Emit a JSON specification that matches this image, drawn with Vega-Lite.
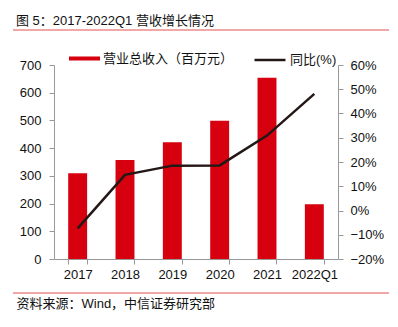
{
  "$schema": "https://vega.github.io/schema/vega-lite/v6.json",
  "width": 284,
  "height": 194,
  "autosize": {"type": "none"},
  "padding": {"left": 54, "top": 65, "right": 60, "bottom": 68},
  "title": {
    "text": "图 5：2017-2022Q1 营收增长情况",
    "anchor": "start",
    "frame": "group",
    "dx": -38,
    "offset": 2,
    "fontSize": 13,
    "fontWeight": "normal",
    "color": "#111",
    "font": "Liberation Sans, Noto Sans CJK SC"
  },
  "config": {
    "view": {"stroke": null},
    "font": "Liberation Sans, Noto Sans CJK SC",
    "axis": {
      "labelFont": "Liberation Sans, Noto Sans CJK SC",
      "labelFontSize": 13,
      "labelColor": "#111",
      "domainColor": "#999",
      "tickColor": "#999",
      "tickSize": 5,
      "grid": false
    },
    "legend": {
      "labelFont": "Liberation Sans, Noto Sans CJK SC",
      "labelFontSize": 13,
      "labelColor": "#111"
    }
  },
  "data": {
    "values": [
      {"year": "2017", "revenue": 309, "yoy": -0.074},
      {"year": "2018", "revenue": 357, "yoy": 0.147},
      {"year": "2019", "revenue": 421, "yoy": 0.185},
      {"year": "2020", "revenue": 499, "yoy": 0.186},
      {"year": "2021", "revenue": 654, "yoy": 0.309},
      {"year": "2022Q1", "revenue": 198, "yoy": 0.481}
    ]
  },
  "layer": [
    {
      "data": {"values": [{}]},
      "mark": {"type": "rule", "color": "#e55050", "strokeWidth": 1},
      "encoding": {"x": {"value": -41}, "x2": {"value": 335}, "y": {"value": -35}}
    },
    {
      "data": {"values": [{}]},
      "mark": {"type": "rule", "color": "#e55050", "strokeWidth": 1},
      "encoding": {"x": {"value": -41}, "x2": {"value": 335}, "y": {"value": 228}}
    },
    {
      "mark": {"type": "bar", "color": "#d7000f"},
      "encoding": {
        "x": {
          "field": "year",
          "type": "ordinal",
          "sort": null,
          "scale": {"paddingInner": 0.6, "paddingOuter": 0.3},
          "axis": {
            "labelAngle": 0,
            "tickBand": "extent",
            "labelPadding": 4,
            "title": "资料来源：Wind，中信证券研究部",
            "titleAnchor": "start",
            "titleAlign": "left",
            "titleBaseline": "middle",
            "titleX": -38,
            "titleY": 44,
            "titleFontSize": 13,
            "titleFontWeight": "normal",
            "titleColor": "#111",
            "titleFont": "Liberation Sans, Noto Sans CJK SC"
          }
        },
        "y": {
          "field": "revenue",
          "type": "quantitative",
          "scale": {"domain": [0, 700], "nice": false},
          "axis": {"values": [0, 100, 200, 300, 400, 500, 600, 700], "title": null, "labelPadding": 8, "orient": "left"}
        },
        "fill": {
          "datum": "营业总收入（百万元）",
          "scale": {"range": ["#d7000f"]},
          "legend": {
            "title": null,
            "orient": "none",
            "legendX": 15,
            "legendY": -22,
            "symbolType": "M-1,-0.13H1V0.13H-1Z",
            "symbolSize": 961,
            "symbolStrokeWidth": 0,
            "labelOffset": 3
          }
        }
      }
    },
    {
      "mark": {"type": "line", "strokeWidth": 2.5},
      "encoding": {
        "x": {"field": "year", "type": "ordinal", "sort": null},
        "y": {
          "field": "yoy",
          "type": "quantitative",
          "scale": {"domain": [-0.2, 0.6], "nice": false},
          "axis": {"values": [-0.2, -0.1, 0, 0.1, 0.2, 0.3, 0.4, 0.5, 0.6], "format": ".0%", "title": null, "labelPadding": 7, "orient": "right"}
        },
        "stroke": {
          "datum": "同比(%)",
          "scale": {"range": ["#231815"]},
          "legend": {
            "title": null,
            "orient": "none",
            "legendX": 199,
            "legendY": -22,
            "symbolType": "stroke",
            "symbolSize": 961,
            "symbolStrokeWidth": 2.5,
            "labelOffset": 3
          }
        }
      }
    }
  ],
  "resolve": {"scale": {"y": "independent"}}
}
